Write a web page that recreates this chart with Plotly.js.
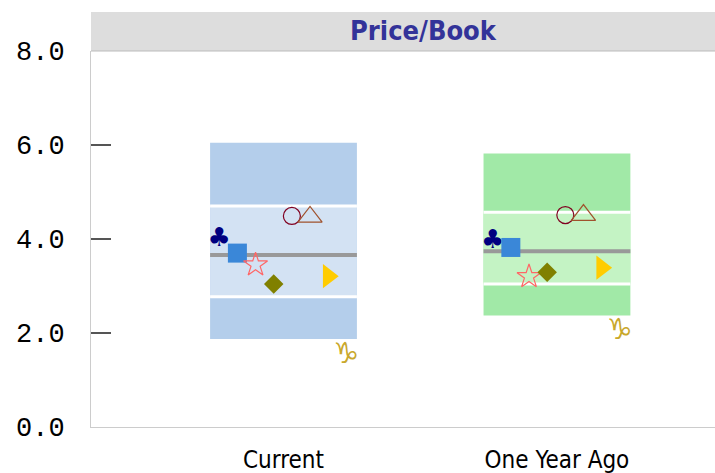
<!DOCTYPE html>
<html>
<head>
<meta charset="utf-8">
<script src="https://cdn.plot.ly/plotly-3.0.1.min.js"></script>
<style>
  html, body { margin: 0; padding: 0; background: #fff; }
  #chart { width: 715px; height: 473px; }
</style>
</head>
<body>
<div id="chart"></div>
<script>
// categories and box ranges
const categories = ['Current', 'One Year Ago'];
const outerLow = [1.87, 2.37];
const outerHigh = [6.05, 5.82];
const innerLow = [2.77, 3.04];
const innerHigh = [4.70, 4.57];
const medians = [3.66, 3.74];

// marker series (one value per category)
const clubVals = [4.00, 3.94];
const squareVals = [3.70, 3.82];
const starVals = [3.45, 3.20];
const diamondVals = [3.04, 3.29];
const circleVals = [4.49, 4.51];
const triUpVals = [4.47, 4.51];
const triRightVals = [3.21, 3.39];
const capricornVals = [1.51, 2.03];

const yTicks = [0, 2, 4, 6, 8];

// styling
const boxWidth = 0.537;
const outerColors = ['#b4ceeb', '#a1e9a7'];
const innerColors = ['#d3e2f3', '#c4f3c4'];
const xs = categories.map((c, i) => i);

function hline(vals, color, width) {
  const x = [], y = [];
  vals.forEach((v, i) => {
    x.push(i - boxWidth / 2, i + boxWidth / 2, null);
    y.push(v, v, null);
  });
  return { x: x, y: y, type: 'scatter', mode: 'lines', line: { color: color, width: width }, hoverinfo: 'skip' };
}

const outerBars = {
  x: xs, base: outerLow, y: outerHigh.map((v, i) => v - outerLow[i]),
  type: 'bar', width: boxWidth, marker: { color: outerColors, line: { width: 0 } }, hoverinfo: 'skip'
};
const innerBars = {
  x: xs, base: innerLow, y: innerHigh.map((v, i) => v - innerLow[i]),
  type: 'bar', width: boxWidth, marker: { color: innerColors, line: { width: 0 } }, hoverinfo: 'skip'
};

// markers: each series sits at its own offset within the box
const series = [
  { vals: clubVals, text: '\u2663', color: '#000080', size: 26 },
  { vals: squareVals, symbol: 'square', color: '#3a87d8', size: 19 },
  { vals: starVals, symbol: 'star-open', color: '#ff6666', size: 18 },
  { vals: diamondVals, symbol: 'diamond', color: '#808000', size: 15 },
  { vals: circleVals, symbol: 'circle-open', color: '#800020', size: 17 },
  { vals: triUpVals, symbol: 'triangle-up-open', color: '#a0522d', size: 21 },
  { vals: triRightVals, symbol: 'triangle-right', color: '#ffcc00', size: 21 },
  { vals: capricornVals, text: '\u2651', color: '#c9a82c', size: 29 }
];
const markerTraces = series.map((s, k) => {
  const off = -0.235 + k * 0.0664;
  const t = { x: xs.map(i => i + off), y: s.vals, type: 'scatter', hoverinfo: 'skip' };
  if (s.text) {
    t.mode = 'text';
    t.text = s.vals.map(() => s.text);
    t.textposition = 'middle center';
    t.textfont = { family: 'DejaVu Sans', size: s.size, color: s.color };
  } else {
    t.mode = 'markers';
    t.marker = { symbol: s.symbol, size: s.size, color: s.color, line: { color: s.color, width: s.symbol.indexOf('open') >= 0 ? 1.2 : 0 } };
  }
  return t;
});

const traces = [outerBars, innerBars, hline(innerLow, '#ffffff', 3), hline(innerHigh, '#ffffff', 3),
  hline(medians, '#999999', 4)].concat(markerTraces);

const layout = {
  width: 715, height: 473,
  margin: { l: 91, r: 0, t: 51, b: 46 },
  paper_bgcolor: '#ffffff', plot_bgcolor: '#ffffff',
  showlegend: false,
  barmode: 'overlay',
  title: {
    text: '<b>Price/Book</b>',
    font: { family: 'DejaVu Sans Condensed, DejaVu Sans', size: 27, color: '#333399' },
    x: 423 / 715, xref: 'container', xanchor: 'center',
    y: 1 - 31 / 473, yref: 'container', yanchor: 'middle'
  },
  xaxis: {
    range: [-0.704, 1.578], tickvals: xs, ticktext: categories,
    showgrid: false, zeroline: false, showline: true, linecolor: '#cccccc', linewidth: 1,
    ticks: '', ticklabelstandoff: 11,
    tickfont: { family: 'DejaVu Sans Condensed, DejaVu Sans', size: 24, color: '#000' }
  },
  yaxis: {
    range: [0, 8], tickvals: yTicks, tickformat: '.1f',
    showgrid: false, zeroline: false, showline: true, linecolor: '#cccccc', linewidth: 1,
    ticks: 'inside', ticklen: 20, tickwidth: 2, tickcolor: '#555555', ticklabelstandoff: 20,
    tickfont: { family: 'Liberation Mono, monospace', size: 27, color: '#000' }
  },
  shapes: [
    { type: 'rect', xref: 'paper', yref: 'paper', x0: 0, x1: 1, y0: 1, y1: 1 + 39 / 376,
      fillcolor: '#dddddd', line: { width: 0 }, layer: 'below' },
    { type: 'line', xref: 'paper', yref: 'paper', x0: 0, x1: 1, y0: 1, y1: 1,
      line: { color: '#bbbbbb', width: 1 } }
  ]
};

Plotly.newPlot('chart', traces, layout, { displayModeBar: false, staticPlot: true });
</script>
</body>
</html>
